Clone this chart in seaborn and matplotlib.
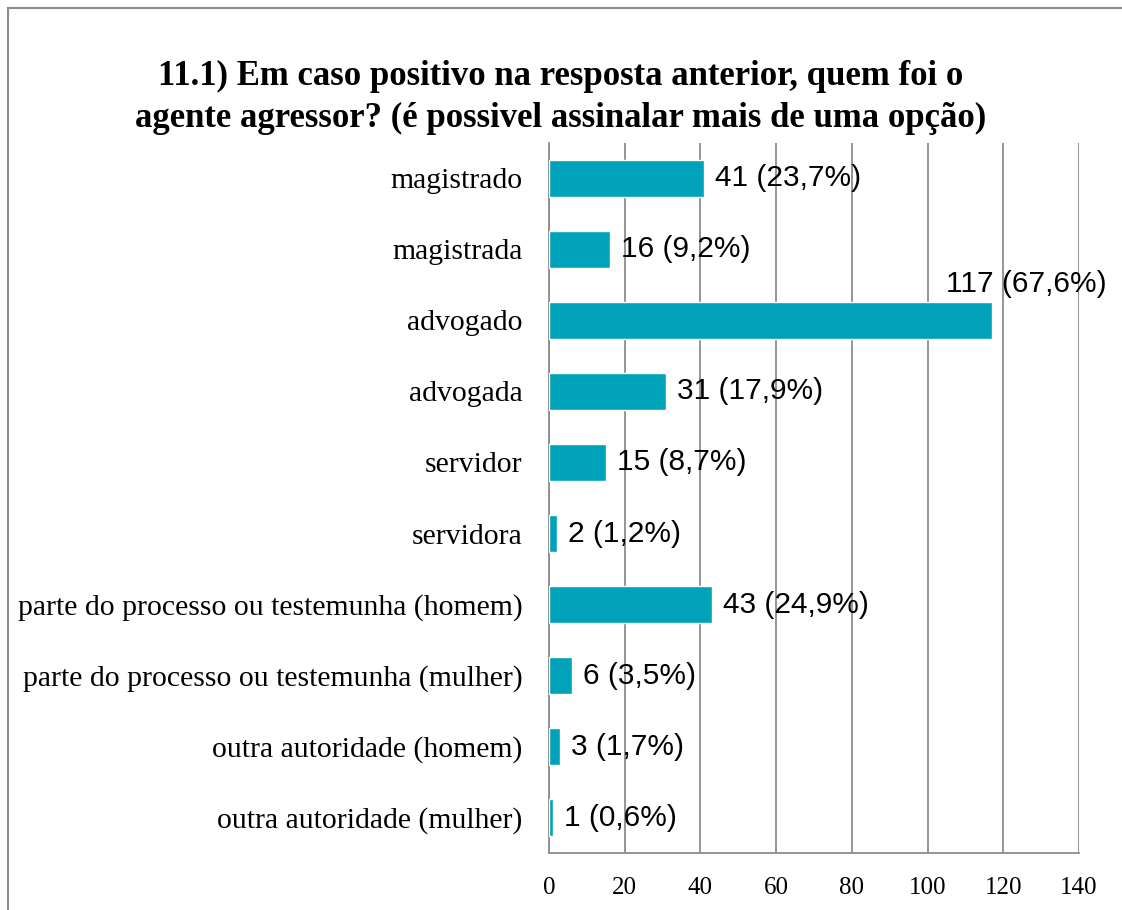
import matplotlib
matplotlib.use('Agg')
import matplotlib.pyplot as plt
import seaborn as sns
import pandas as pd
from matplotlib.patches import Rectangle
from matplotlib.ticker import FixedLocator

# dados do gráfico
categorias = ['magistrado', 'magistrada', 'advogado', 'advogada', 'servidor', 'servidora',
              'parte do processo ou testemunha (homem)', 'parte do processo ou testemunha (mulher)',
              'outra autoridade (homem)', 'outra autoridade (mulher)']
valores = [41, 16, 117, 31, 15, 2, 43, 6, 3, 1]
percentuais = ['23,7%', '9,2%', '67,6%', '17,9%', '8,7%', '1,2%', '24,9%', '3,5%', '1,7%', '0,6%']
ticks_x = [0, 20, 40, 60, 80, 100, 120, 140]
titulo = ('11.1) Em caso positivo na resposta anterior, quem foi o\n'
          'agente agressor? (é possivel assinalar mais de uma opção)')

dados = pd.DataFrame({'categoria': categorias, 'valor': valores})

sns.set_theme(style='white')
plt.rcParams['font.family'] = ['Liberation Serif', 'DejaVu Serif']
plt.rcParams['text.color'] = 'black'
plt.rcParams['xtick.labelcolor'] = 'black'
plt.rcParams['ytick.labelcolor'] = 'black'

cor_barra = '#00A2B9'
cor_grade = '#8C8C8C'

fig = plt.figure(figsize=(11.22, 9.10), dpi=100)
ax = fig.add_axes([0.4893, 0.0626, 0.4724, 0.7803])

sns.barplot(data=dados, x='valor', y='categoria', color=cor_barra, width=0.52,
            saturation=1, ax=ax, zorder=3)

ax.set_xlim(0, 140)
ax.set_ylim(len(categorias) - 0.5, -0.5)
ax.set_xticks(ticks_x)
ax.set_xticklabels([str(t) for t in ticks_x], fontsize=18)
ax.set_yticks(range(len(categorias)))
ax.set_yticklabels(categorias, fontsize=21.4)
ax.yaxis.set_minor_locator(FixedLocator([i - 0.5 for i in range(len(categorias) + 1)]))
ax.tick_params(axis='y', which='major', length=0, pad=19)
ax.tick_params(axis='y', which='minor', length=4, width=1.2, color=cor_grade, direction='out')
ax.tick_params(axis='x', which='major', length=7, width=1.2, color=cor_grade,
               direction='out', pad=10)
ax.set_xlabel('')
ax.set_ylabel('')

ax.grid(axis='x', color=cor_grade, linewidth=1.3, zorder=0)
ax.grid(axis='y', visible=False)
for lado in ['top', 'right']:
    ax.spines[lado].set_visible(False)
for lado in ['left', 'bottom']:
    ax.spines[lado].set_color(cor_grade)
    ax.spines[lado].set_linewidth(1.3)

# rótulos de dados
for i, (v, p) in enumerate(zip(valores, percentuais)):
    texto = f'{v} ({p})'
    if v > 100:
        ax.annotate(texto, xy=(v, i), xytext=(25, 26), textcoords='offset points',
                    ha='center', va='center', fontsize=21.5, family='Liberation Sans', zorder=5)
    else:
        ax.annotate(texto, xy=(v, i), xytext=(8, 0), textcoords='offset points',
                    ha='left', va='center', fontsize=21.5, family='Liberation Sans', zorder=5)

fig.suptitle(titulo, x=0.5, y=0.934, fontsize=25, fontweight='bold', linespacing=1.35)

# moldura do gráfico
fig.patches.append(Rectangle((0.007, -0.1), 1.2, 1.091, transform=fig.transFigure,
                             fill=False, edgecolor='#8C8C8C', linewidth=1.5))

fig.savefig('out.png', dpi=100)
